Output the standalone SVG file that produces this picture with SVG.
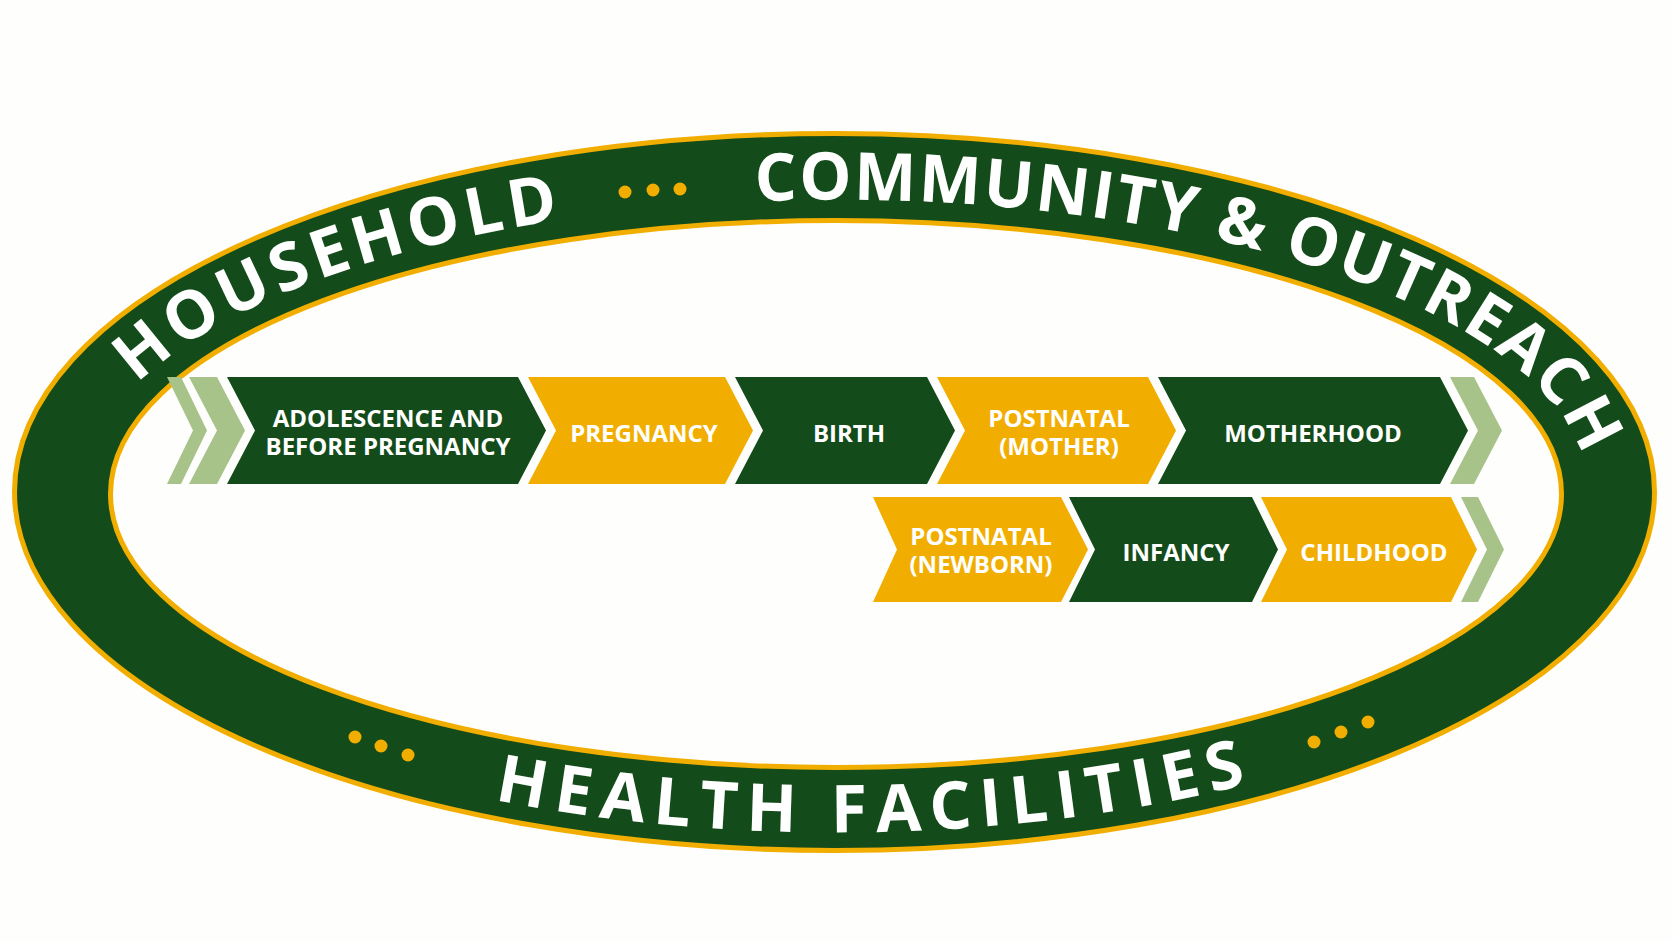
<svg xmlns="http://www.w3.org/2000/svg" width="1672" height="941" viewBox="0 0 1672 941">
  <style>
    .dg { fill: #134B1A; }
    .or { fill: #F2AE00; }
    .lg { fill: #A7C38A; }
    .lbl { font-family: "Open Sans", "Liberation Sans", sans-serif; font-weight: 700; font-size: 24px; fill: #FFFFFF; text-anchor: middle; }
    .ring { font-family: "Open Sans", "Liberation Sans", sans-serif; font-weight: 700; font-size: 66px; fill: #FFFFFF; text-anchor: middle; }
    .dot { fill: #F2AE00; }
  </style>
  <defs>
    <path id="topArc" d="M 84,492 A 752 292.5 0 0 1 1588,492"/>
    <path id="botArc" d="M 36,492 A 800 340.5 0 0 0 1636,492"/>
  </defs>
  <rect x="0" y="0" width="1672" height="941" fill="#FEFEFC"/>

  <g id="ring">
    <ellipse cx="834.5" cy="492" rx="820" ry="358.5" fill="#134B1A" stroke="#F2AE00" stroke-width="5"/>
    <ellipse cx="836" cy="494" rx="725.5" ry="273.5" fill="#FEFEFC" stroke="#F2AE00" stroke-width="5"/>
    <text class="ring" letter-spacing="5.5"><textPath href="#topArc" startOffset="356">HOUSEHOLD</textPath></text>
    <text class="ring" letter-spacing="2"><textPath href="#topArc" startOffset="1233">COMMUNITY &amp; OUTREACH</textPath></text>
    <text class="ring" letter-spacing="9"><textPath href="#botArc" startOffset="972">HEALTH FACILITIES</textPath></text>
    <circle class="dot" cx="625" cy="192" r="6.5"/>
    <circle class="dot" cx="653" cy="190" r="6.5"/>
    <circle class="dot" cx="680" cy="189" r="6.5"/>
    <circle class="dot" cx="355" cy="737" r="6.5"/>
    <circle class="dot" cx="381" cy="746" r="6.5"/>
    <circle class="dot" cx="408" cy="755" r="6.5"/>
    <circle class="dot" cx="1314" cy="742" r="6.5"/>
    <circle class="dot" cx="1341" cy="732" r="6.5"/>
    <circle class="dot" cx="1368" cy="722" r="6.5"/>
  </g>

  <g id="connectors">
    <polygon class="lg" points="167,377 181,377 207,430.5 181,484 167,484 193,430.5"/>
    <polygon class="lg" points="189,377 217,377 245,430.5 217,484 189,484 217,430.5"/>
    <polygon class="lg" points="1450,377 1474,377 1502,430.5 1474,484 1450,484 1478,430.5"/>
    <polygon class="lg" points="1461,497 1478,497 1504,549.5 1478,602 1461,602 1487,549.5"/>
  </g>

  <g id="node-adolescence">
    <polygon class="dg" points="227,377 518,377 546,430.5 518,484 227,484 255,430.5"/>
    <text class="lbl" x="388" y="426.5">ADOLESCENCE AND<tspan x="388" dy="28.5">BEFORE PREGNANCY</tspan></text>
  </g>
  <g id="node-pregnancy">
    <polygon class="or" points="528,377 725,377 753,430.5 725,484 528,484 556,430.5"/>
    <text class="lbl" x="644" y="441.5">PREGNANCY</text>
  </g>
  <g id="node-birth">
    <polygon class="dg" points="735,377 927,377 955,430.5 927,484 735,484 763,430.5"/>
    <text class="lbl" x="849" y="441.5">BIRTH</text>
  </g>
  <g id="node-postnatal-mother">
    <polygon class="or" points="937,377 1148,377 1176,430.5 1148,484 937,484 965,430.5"/>
    <text class="lbl" x="1059" y="426.5">POSTNATAL<tspan x="1059" dy="28.5">(MOTHER)</tspan></text>
  </g>
  <g id="node-motherhood">
    <polygon class="dg" points="1158,377 1440,377 1468,430.5 1440,484 1158,484 1186,430.5"/>
    <text class="lbl" x="1313" y="441.5">MOTHERHOOD</text>
  </g>
  <g id="node-postnatal-newborn">
    <polygon class="or" points="873,497 1061,497 1088,549.5 1061,602 873,602 897,549.5"/>
    <text class="lbl" x="981" y="545">POSTNATAL<tspan x="981" dy="28">(NEWBORN)</tspan></text>
  </g>
  <g id="node-infancy">
    <polygon class="dg" points="1069,497 1252,497 1278,549.5 1252,602 1069,602 1095,549.5"/>
    <text class="lbl" x="1176" y="560.5">INFANCY</text>
  </g>
  <g id="node-childhood">
    <polygon class="or" points="1261,497 1451,497 1477,549.5 1451,602 1261,602 1287,549.5"/>
    <text class="lbl" x="1374" y="560.5">CHILDHOOD</text>
  </g>
</svg>
